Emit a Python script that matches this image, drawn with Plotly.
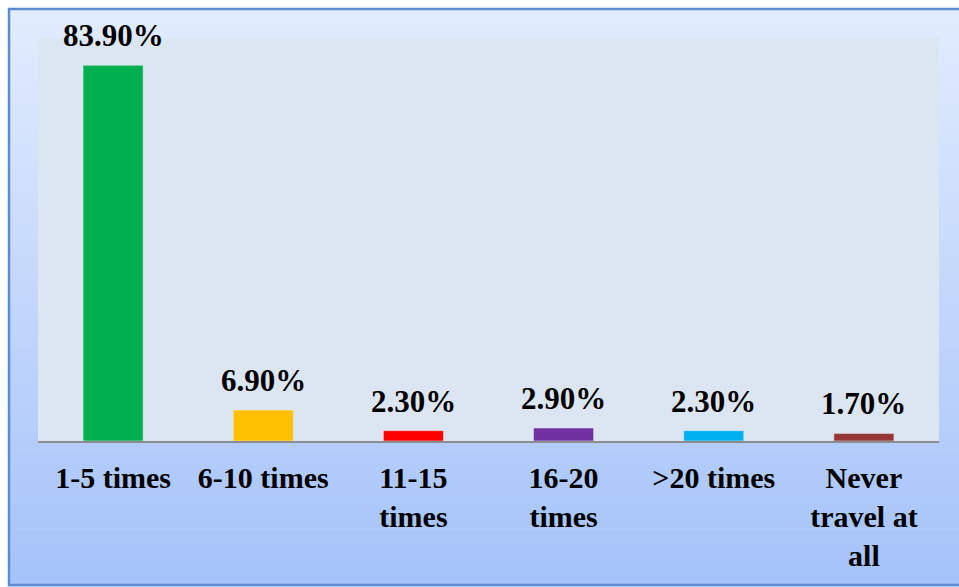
import plotly.graph_objects as go

categories = ["1-5 times", "6-10 times", "11-15<br>times", "16-20<br>times", ">20 times", "Never<br>travel at<br>all"]
values = [83.9, 6.9, 2.3, 2.9, 2.3, 1.7]
labels = ["83.90%", "6.90%", "2.30%", "2.90%", "2.30%", "1.70%"]
colors = ["#00B050", "#FFC000", "#FF0000", "#7030A0", "#00B0F0", "#953735"]

W, H = 959, 587
L, R, T, B = 38, 20, 38, 146
pw, ph = W - L - R, H - T - B

def px_x(x):
    return (x - L) / pw

def px_y(y):
    return (H - B - y) / ph

FONT = "Liberation Serif, Times New Roman, serif"

fig = go.Figure()
fig.add_trace(go.Bar(x=categories, y=values, marker_color=colors, width=0.4))

annotations = [dict(x=c, y=v, xref="x", yref="y", text=t, showarrow=False,
                    yanchor="bottom", yshift=10,
                    font=dict(family=FONT, size=31, color="black", weight="bold"))
               for c, v, t in zip(categories, values, labels)]

shapes = []
top_c = (226, 236, 253)
bot_c = (164, 194, 249)
n = 60
y0px, y1px = 8, 586
for i in range(n):
    a = y0px + (y1px - y0px) * i / n
    b = y0px + (y1px - y0px) * (i + 1) / n + 0.6
    t = (i + 0.5) / n
    c = tuple(round(top_c[k] + (bot_c[k] - top_c[k]) * t) for k in range(3))
    shapes.append(dict(type="rect", xref="paper", yref="paper", layer="below",
                       x0=px_x(8), x1=px_x(970), y0=px_y(b), y1=px_y(a),
                       fillcolor="rgb(%d,%d,%d)" % c, line=dict(width=0)))
shapes.append(dict(type="rect", xref="paper", yref="paper", layer="below",
                   x0=0, x1=1, y0=0, y1=1, fillcolor="#DCE6F2", line=dict(width=0)))
shapes.append(dict(type="rect", xref="paper", yref="paper", layer="above",
                   x0=px_x(9), x1=px_x(975), y0=px_y(585), y1=px_y(9),
                   fillcolor="rgba(0,0,0,0)", line=dict(color="#5B8BD0", width=2.5)))

fig.update_layout(
    width=W, height=H,
    margin=dict(l=L, r=R, t=T, b=B, pad=0, autoexpand=False),
    paper_bgcolor="white", plot_bgcolor="rgba(0,0,0,0)",
    shapes=shapes, annotations=annotations, showlegend=False,
    font=dict(family=FONT, color="black"),
    xaxis=dict(showline=True, linecolor="#8C8C8C", linewidth=1.5, ticks="outside",
               ticklen=9, tickcolor="rgba(0,0,0,0)", showgrid=False, automargin=False,
               tickfont=dict(family=FONT, size=30, color="black", weight="bold")),
    yaxis=dict(range=[0, 90], visible=False, showgrid=False, automargin=False),
)
fig.write_html("out.html")
